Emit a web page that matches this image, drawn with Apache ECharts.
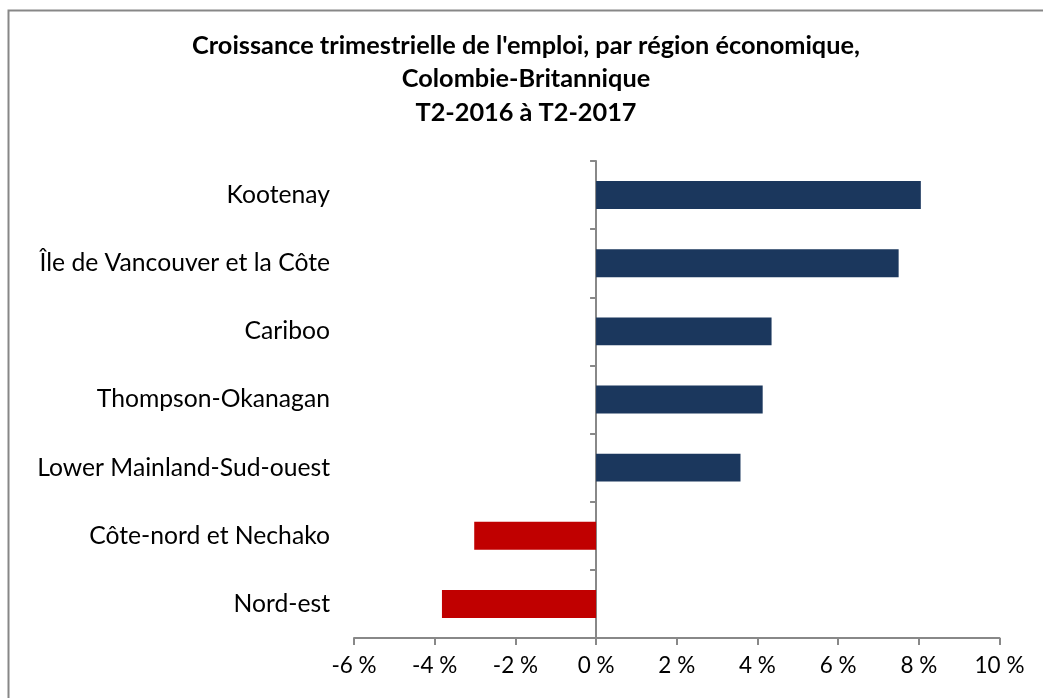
<!DOCTYPE html>
<html>
<head>
<meta charset="utf-8">
<script src="https://cdn.jsdelivr.net/npm/echarts@6/dist/echarts.min.js"></script>
<style>
html,body{margin:0;padding:0;background:#fff;}
#c{width:1043px;height:698px;}
</style>
</head>
<body>
<div id="c"></div>
<script>
const categories = ["Kootenay", "Île de Vancouver et la Côte", "Cariboo", "Thompson-Okanagan", "Lower Mainland-Sud-ouest", "Côte-nord et Nechako", "Nord-est"];
const values = [8.05, 7.5, 4.35, 4.13, 3.58, -3.02, -3.82];
const titleLines = ["Croissance trimestrielle de l'emploi, par région économique,", "Colombie-Britannique", "T2-2016 à T2-2017"];
const xTicks = { min: -6, max: 10, interval: 2 };

const FONT = "Lato";
const chart = echarts.init(document.getElementById('c'), null, { renderer: 'canvas' });
const cats = categories.slice().reverse();
const vals = values.slice().reverse();

chart.setOption({
  backgroundColor: '#fff',
  animation: false,
  title: {
    text: titleLines.join('\n'),
    left: 521, top: 24, textAlign: 'center',
    textStyle: { fontFamily: FONT, fontWeight: 'bold', fontSize: 25.3, lineHeight: 33.5, color: '#000' }
  },
  graphic: [{
    type: 'rect', shape: { x: 8.5, y: 10.5, width: 1100, height: 800 },
    style: { fill: 'none', stroke: '#878787', lineWidth: 2 }, silent: true
  }],
  grid: { left: 354, right: 43.5, top: 161, bottom: 60 },
  xAxis: {
    type: 'value', min: xTicks.min, max: xTicks.max, interval: xTicks.interval,
    axisLine: { show: true, onZero: false, lineStyle: { color: '#888', width: 2 } },
    axisTick: { show: true, length: 7, lineStyle: { color: '#888', width: 2 } },
    splitLine: { show: false },
    axisLabel: { formatter: v => v + ' %', fontFamily: FONT, fontSize: 22.5, color: '#000', margin: 16 }
  },
  yAxis: [{
    type: 'category', data: cats,
    axisLine: { show: true, onZero: true, lineStyle: { color: '#888', width: 2 } },
    axisTick: { show: true, length: 6, lineStyle: { color: '#888', width: 2 } },
    axisLabel: { show: false }
  }, {
    type: 'category', data: cats, position: 'left',
    axisLine: { show: false, onZero: false }, axisTick: { show: false },
    axisLabel: { fontFamily: FONT, fontSize: 24.7, color: '#000', margin: 24 }
  }],
  series: [{
    type: 'bar', yAxisIndex: 0, data: vals.map(v => ({ value: v, itemStyle: { color: v < 0 ? '#C00000' : '#1B375D' } })),
    barWidth: '41%'
  }]
});
</script>
</body>
</html>
